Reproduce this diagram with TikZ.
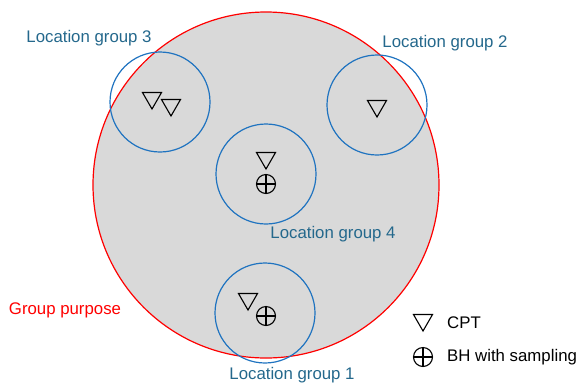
\documentclass[tikz,border=0pt]{standalone}
\usepackage{fontspec}
\setmainfont{Liberation Sans}
\usetikzlibrary{positioning,shapes.geometric}
\definecolor{grpblue}{RGB}{31,115,192}
\definecolor{lblblue}{RGB}{36,104,140}
\definecolor{grpgray}{RGB}{217,217,217}
\tikzset{
  purposecircle/.style={draw=red, line width=1.2bp, fill=grpgray, circle, minimum size=346bp, inner sep=0pt},
  loccircle/.style={draw=grpblue, line width=1.2bp, circle, minimum size=100bp, inner sep=0pt},
  cpt/.style={draw, line width=1.1bp, regular polygon, regular polygon sides=3, shape border rotate=180, minimum size=22bp, inner sep=0pt},
  bh/.style={draw, line width=1.1bp, circle, minimum size=19bp, inner sep=0pt,
    path picture={\draw[line width=1.1bp] (path picture bounding box.north) -- (path picture bounding box.south)
      (path picture bounding box.west) -- (path picture bounding box.east);}},
  loclabel/.style={text=lblblue, inner sep=0pt},
  legtext/.style={inner sep=0pt, anchor=west}
}
\begin{document}
\begin{tikzpicture}[x=1bp, y=-1bp, every node/.style={font=\fontsize{16.8bp}{20bp}\selectfont}]
  \useasboundingbox (0,0) rectangle (581,385);
  % group purpose
  \node[purposecircle] (purpose) at (266,185) {};
  % location groups
  \node[loccircle] (g3) at (160,102) {};
  \node[loccircle] (g2) at (377,105) {};
  \node[loccircle] (g4) at (266,174) {};
  \node[loccircle] (g1) at (265,313) {};
  % investigations
  \node[cpt] (c3a) at (152,98) {};
  \node[cpt] (c3b) at (171,105) {};
  \node[cpt] (c2) at (377,106) {};
  \node[cpt] (c4) at (266,158) {};
  \node[bh] (b4) at (266,184) {};
  \node[cpt] (c1) at (248,299) {};
  \node[bh] (b1) at (266,316) {};
  % labels
  \node[loclabel] (l3) at (89,38) {Location group 3};
  \node[loclabel] (l2) at (445,43) {Location group 2};
  \node[loclabel] (l4) at (333,234) {Location group 4};
  \node[loclabel] (l1) at (292,375) {Location group 1};
  \node[text=red, inner sep=0pt] (lp) at (65,310) {Group purpose};
  % legend
  \node[cpt] (legc) at (423,320) {};
  \node[bh] (legb) at (423,357) {};
  \node[legtext] (legctext) at (447,323) {CPT};
  \node[legtext] (legbtext) at (447,357) {BH with sampling};
\end{tikzpicture}
\end{document}
